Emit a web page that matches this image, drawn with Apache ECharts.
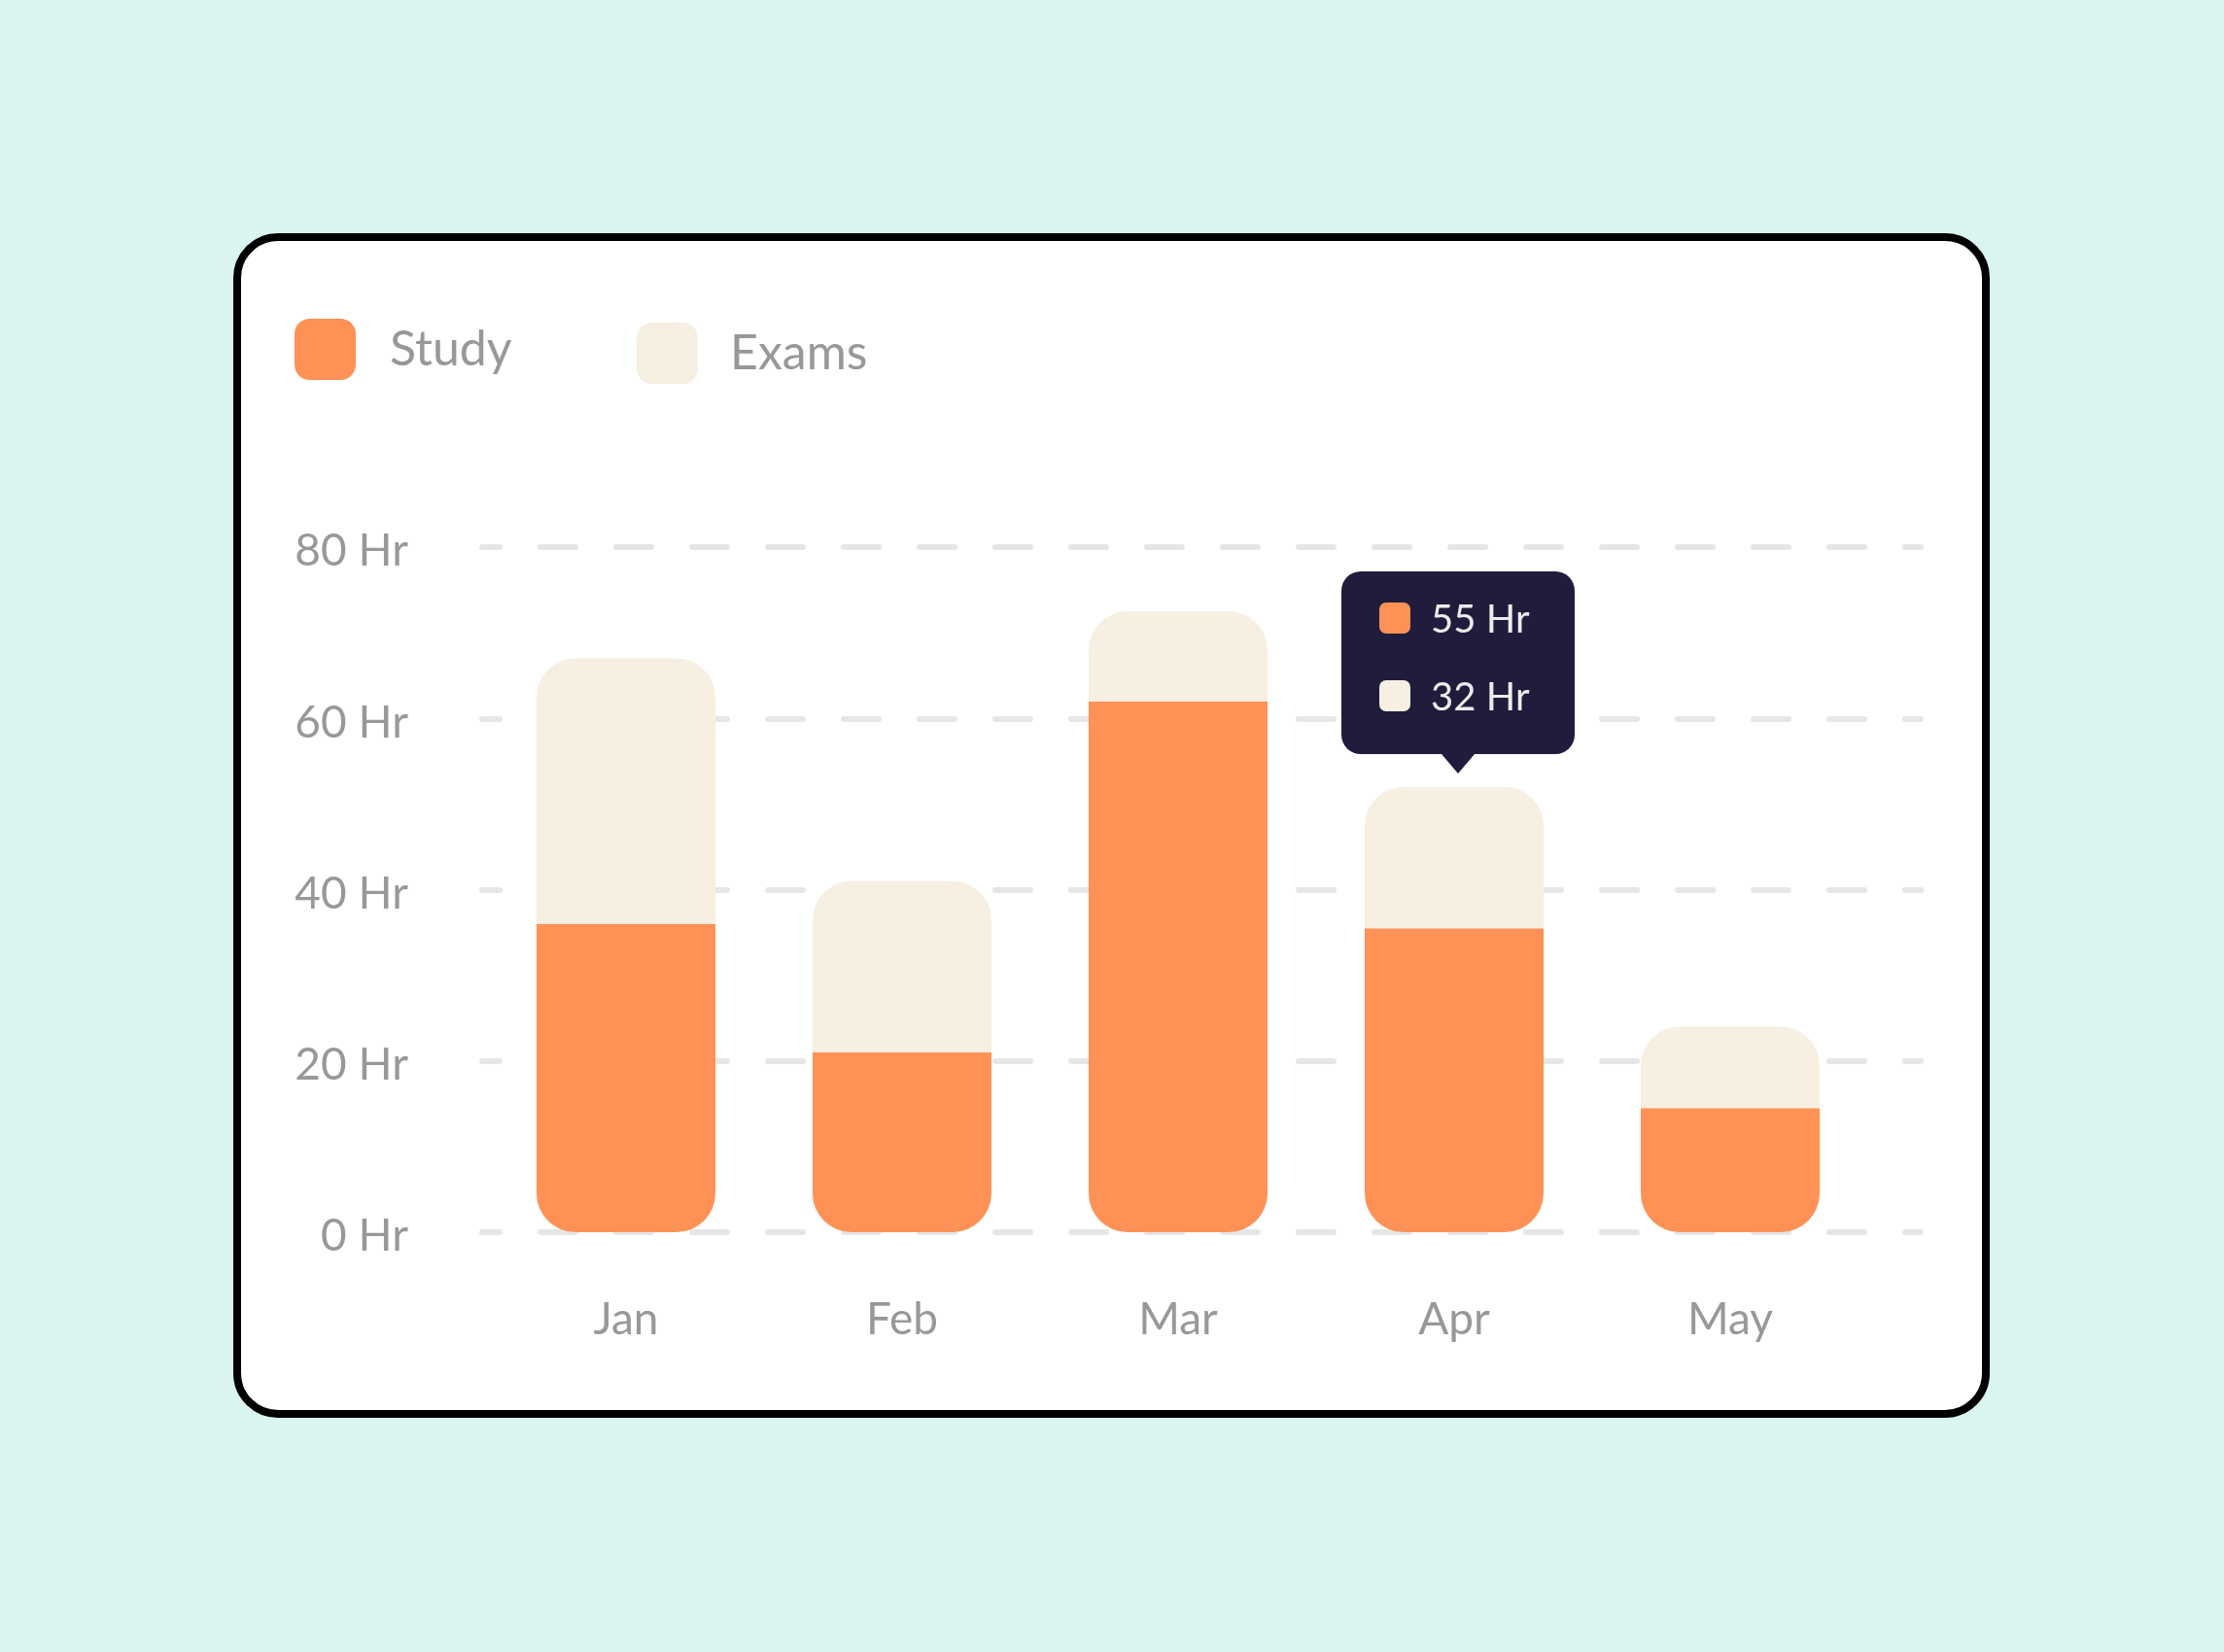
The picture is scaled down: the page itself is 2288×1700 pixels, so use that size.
<!DOCTYPE html>
<html>
<head>
<meta charset="utf-8">
<title>Study / Exams</title>
<script src="https://cdn.jsdelivr.net/npm/echarts@6/dist/echarts.min.js"></script>
<style>
    html,body{margin:0;padding:0;width:2288px;height:1700px;background:#DAF4EF;overflow:hidden;}
    #card{position:absolute;left:240px;top:240px;width:1807px;height:1219px;box-sizing:border-box;
          border:8px solid #000;border-radius:46px;background:#fff;}
    #main{position:absolute;left:0;top:0;width:2288px;height:1700px;}
</style>
</head>
<body>
<div id="card"></div>
<div id="main"></div>
<script>
// data
var months=['Jan','Feb','Mar','Apr','May'];
var study=[36,21,62,35.5,14.5];
var exams=[31,20,10.5,16.5,9.5];
var yTicks=[0,20,40,60,80];
// tooltip shown on Apr
var tipIndex=3;
var tipValues=['55 Hr','32 Hr'];

var orange='#FE9155';
var cream='#F6EFE2';
var gray='#98989B';
var navy='#1F1C3C';
var font='Lato';

window.onload=function(){

    var myChart=echarts.init(document.getElementById('main'),null,{renderer:'canvas'});

    //提示框
    function tipHtml(){
        var colors=[orange,cream];
        var rows='';
        for(var i=0;i<tipValues.length;i++){
            rows=rows+'<div style="display:flex;align-items:center;height:32px;'+(i>0?'margin-top:48px;':'')+'">'+
                '<span style="display:inline-block;width:32px;height:32px;border-radius:7px;background:'+colors[i]+';"></span>'+
                '<span style="margin-left:21px;font-size:40px;line-height:32px;color:#ECECEC;font-family:'+font+';">'+tipValues[i]+'</span></div>';
        }
        return '<div style="position:relative;box-sizing:border-box;width:240px;height:188px;padding:32px 0 0 39px;">'+rows+
            '<div style="position:absolute;left:103px;top:188px;width:0;height:0;border-left:17px solid transparent;'+
            'border-right:17px solid transparent;border-top:20px solid '+navy+';"></div></div>';
    }

    var option={
        animation:false,
        backgroundColor:'transparent',
        textStyle:{fontFamily:font},
        legend:[{
            data:['Study'],
            left:303,top:328,padding:0,
            itemWidth:63,itemHeight:63,icon:'roundRect',
            selectedMode:false,
            textStyle:{fontSize:50,color:gray,fontFamily:font,padding:[0,0,0,30]}
        },{
            data:['Exams'],
            left:655,top:332,padding:0,
            itemWidth:63,itemHeight:63,icon:'roundRect',
            selectedMode:false,
            textStyle:{fontSize:50,color:gray,fontFamily:font,padding:[0,0,0,28]}
        }],
        tooltip:{
            trigger:'item',
            triggerOn:'none',
            alwaysShowContent:true,
            transitionDuration:0,
            backgroundColor:navy,
            borderWidth:0,
            padding:0,
            extraCssText:'border-radius:20px;box-shadow:none;',
            formatter:function(){ return tipHtml(); },
            position:function(point,params,dom,rect,size){
                var i=params.dataIndex;
                var x=myChart.convertToPixel({xAxisIndex:0},months[i]);
                var y=myChart.convertToPixel({yAxisIndex:0},study[i]+exams[i]);
                return [x-size.contentSize[0]/2+4,y-size.contentSize[1]-34];
            }
        },
        grid:[
            {left:502,right:366,top:563,bottom:432,containLabel:false},
            {left:496,right:312,top:563,bottom:432,containLabel:false}
        ],
        xAxis:[{
            type:'category',
            gridIndex:0,
            data:months,
            axisLine:{show:false},
            axisTick:{show:false},
            axisLabel:{fontSize:46,color:gray,margin:67,fontFamily:font}
        },{
            type:'value',
            gridIndex:1,
            show:false
        }],
        yAxis:[{
            type:'value',
            gridIndex:0,
            min:yTicks[0],max:yTicks[yTicks.length-1],interval:yTicks[1]-yTicks[0],
            axisLine:{show:false},
            axisTick:{show:false},
            splitLine:{show:false},
            axisLabel:{
                formatter:function(v){ return '{a|'+v+' Hr}'; },
                margin:82,
                rich:{a:{fontSize:46,color:gray,fontFamily:font,padding:[9,0,0,0]}}
            }
        },{
            type:'value',
            gridIndex:1,
            min:yTicks[0],max:yTicks[yTicks.length-1],interval:yTicks[1]-yTicks[0],
            axisLine:{show:false},
            axisTick:{show:false},
            axisLabel:{show:false},
            splitLine:{show:true,lineStyle:{color:'#E6E6E6',width:6,type:[36,42],dashOffset:18,cap:'round'}}
        }],
        series:[{
            name:'Study',
            type:'bar',
            stack:'hours',
            xAxisIndex:0,yAxisIndex:0,
            barWidth:184,
            data:study,
            itemStyle:{color:orange,borderRadius:[0,0,40,40]},
            emphasis:{disabled:true}
        },{
            name:'Exams',
            type:'bar',
            stack:'hours',
            xAxisIndex:0,yAxisIndex:0,
            barWidth:184,
            data:exams,
            itemStyle:{color:cream,borderRadius:[40,40,0,0]},
            emphasis:{disabled:true}
        }]
    };

    myChart.setOption(option);

    myChart.dispatchAction({type:'showTip',seriesIndex:1,dataIndex:tipIndex});
};
</script>
</body>
</html>
